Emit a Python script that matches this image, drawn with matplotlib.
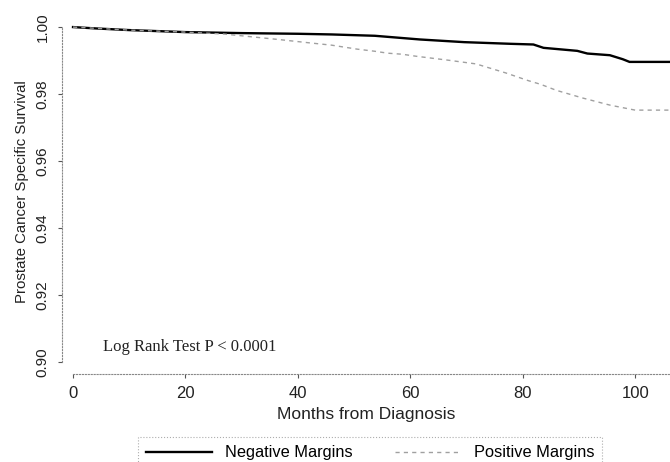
import numpy as np
import matplotlib
matplotlib.use('Agg')
import matplotlib.pyplot as plt

# Kaplan-Meier style survival values
neg_months = [0, 4, 10, 20, 30, 40, 46, 53.7, 61.7, 69.6, 77.9, 81.9, 83.7, 89.7, 91.5, 95.5, 97.8, 99, 106]
neg_surv = [1.000, 0.9996, 0.9991, 0.9985, 0.9982, 0.9980, 0.9978, 0.9974, 0.9963, 0.9955,
            0.9950, 0.9948, 0.9938, 0.9929, 0.9921, 0.9916, 0.9904, 0.9896, 0.9896]

pos_months = [0, 10, 20, 27, 36.5, 42, 46, 50.6, 53.6, 56, 58.5, 61, 66.8, 71.7, 77, 81,
              83.2, 86, 90.7, 95.5, 100, 106]
pos_surv = [1.000, 0.9991, 0.9985, 0.9979, 0.9963, 0.9953, 0.9946, 0.9934, 0.9928, 0.9922,
            0.9919, 0.9913, 0.9901, 0.9890, 0.9863, 0.9840, 0.9829, 0.9811, 0.9788, 0.9767,
            0.9752, 0.9752]

x_ticks = [0, 20, 40, 60, 80, 100]
y_ticks = [0.90, 0.92, 0.94, 0.96, 0.98, 1.00]

plt.rcParams['font.family'] = ['Liberation Sans', 'DejaVu Sans']

fig = plt.figure(figsize=(6.7, 4.62), dpi=100)
ax = fig.add_axes([62/670, 1 - 374/462, 608/670, 364/462])

ax.plot(neg_months, neg_surv, color='black', lw=1.7, label='Negative Margins')
ax.plot(pos_months, pos_surv, color='#a0a0a0', lw=1, ls=(0, (3, 3)),
        label='Positive Margins')

ax.set_xlim(-1.96, 106.2)
ax.set_ylim(0.8964, 1.0051)

ax.spines['top'].set_visible(False)
ax.spines['right'].set_visible(False)
for s in ['left', 'bottom']:
    ax.spines[s].set_color('#888888')
    ax.spines[s].set_linewidth(0.8)
    ax.spines[s].set_linestyle(':')
ax.spines['left'].set_bounds(0.90, 1.00)
ax.spines['bottom'].set_bounds(0, 106)

ax.set_xticks(x_ticks)
ax.set_xticklabels([str(t) for t in x_ticks])
ax.set_yticks(y_ticks)
ax.set_yticklabels(['%.2f' % t for t in y_ticks], rotation=90, va='center')
ax.tick_params(axis='both', direction='out', length=3, width=0.8, color='#555555',
               labelsize=11, labelcolor='#222222', pad=6)
ax.tick_params(axis='x', labelsize=12)

ax.set_xlabel('Months from Diagnosis', fontsize=12.5, color='#222222', labelpad=4)
ax.set_ylabel('Prostate Cancer Specific Survival', fontsize=10.8, color='#222222',
              labelpad=5)

ax.text(5.3, 0.9045, 'Log Rank Test P < 0.0001', family='Liberation Serif',
        fontsize=12, color='#222222', va='center')

leg = fig.legend(loc='upper center', bbox_to_anchor=(370/670, 1 - 429/462), ncol=2,
                 fontsize=11.8, handlelength=4.0, columnspacing=2.6, frameon=True,
                 fancybox=False, borderpad=0.5)
leg.get_frame().set_edgecolor('#999999')
leg.get_frame().set_linestyle(':')
leg.get_frame().set_linewidth(0.8)

fig.savefig('out.png', dpi=100)
